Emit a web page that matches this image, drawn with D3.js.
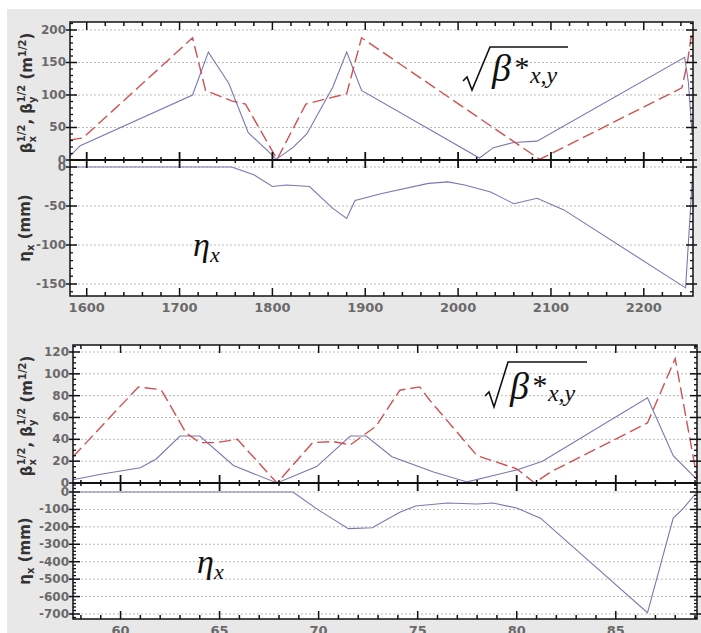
<!DOCTYPE html>
<html>
<head>
<meta charset="utf-8">
<script src="https://cdn.jsdelivr.net/npm/d3@7"></script>
<style>
  body { margin: 0; background: #fff; }
  svg { display: block; }
  .tick-label { font-family: "DejaVu Sans", sans-serif; font-weight: bold; fill: #6a6a6a; }
  .axis-title { font-family: "DejaVu Sans", sans-serif; font-weight: bold; fill: #333; }
  .math { font-family: "Liberation Serif", serif; font-style: italic; fill: #111; }
</style>
</head>
<body>
<svg id="chart" width="701" height="633"></svg>
<script>
// ---- upper figure (s in m, 1582..2253) ----
const upS_bx = [1582, 1593, 1714, 1731, 1753, 1774, 1795, 1804, 1822, 1837, 1865, 1880, 1896, 2023, 2038, 2060, 2085, 2244, 2248, 2252];
const upBx   = [6, 22, 100, 166, 118, 42, 14, 1, 19, 40, 112, 166, 107, 3, 19, 27, 29, 158, 120, 40];
const upS_by = [1582, 1596, 1714, 1728, 1756, 1771, 1805, 1836, 1880, 1896, 2088, 2241, 2247, 2251, 2253];
const upBy   = [31, 34, 188, 107, 91, 86, 1, 86, 102, 188, 1, 111, 150, 190, 185];
const upS_eta = [1582, 1756, 1780, 1800, 1815, 1840, 1865, 1880, 1889, 1918, 1968, 1989, 2007, 2035, 2060, 2085, 2114, 2245, 2250, 2253];
const upEta   = [0, 0, -10, -25, -23, -25, -53, -66, -43, -34, -21, -19, -23, -32, -47, -40, -55, -155, -60, 0];
const upXTicks = [1600, 1700, 1800, 1900, 2000, 2100, 2200];
const upBetaTicks = [0, 50, 100, 150, 200];
const upEtaTicks = [0, -50, -100, -150];

// ---- lower figure ----
const loS_bx = [57.6, 59, 61, 61.8, 63, 64, 65.7, 67.9, 69.9, 71.6, 72.4, 73.7, 75.8, 77.5, 80.0, 81.3, 86.6, 87.9, 89.1];
const loBx   = [3, 8, 14, 22, 43, 43, 16, 0, 15, 43, 43, 24, 10, 1, 12, 20, 78, 25, 3];
const loS_by = [57.6, 60.9, 61.8, 62.1, 63.3, 64.0, 64.8, 65.9, 67.9, 69.7, 70.7, 71.6, 72.9, 74.1, 75.1, 75.6, 78.0, 80.0, 80.9, 81.7, 86.6, 88.0, 89.1];
const loBy   = [24, 88, 86, 84, 46, 37, 37, 40, 0, 37, 38, 35, 52, 85, 88, 76, 25, 13, 0, 10, 55, 114, 5];
const loS_eta = [57.6, 68.7, 70.0, 71.5, 72.7, 74.1, 74.9, 76.5, 78.0, 78.8, 80.0, 81.2, 86.6, 87.9, 88.4, 89.1];
const loEta   = [0, 0, -104, -210, -205, -116, -80, -63, -69, -63, -92, -150, -693, -150, -95, 0];
const loXTicks = [60, 65, 70, 75, 80, 85];
const loBetaTicks = [0, 20, 40, 60, 80, 100, 120];
const loEtaTicks = [0, -100, -200, -300, -400, -500, -600, -700];

const svg = d3.select("#chart");

// grey backdrop
svg.append("rect").attr("x", 7).attr("y", 9).attr("width", 694).attr("height", 624).attr("fill", "#e8e8e8");

const blue = "#7878b2", red = "#d25050";

function drawFigure(cfg) {
  const g = svg.append("g");
  const x = d3.scaleLinear().domain(cfg.xDom).range([cfg.left, cfg.right]);
  const yB = d3.scaleLinear().domain(cfg.bDom).range([cfg.mid, cfg.top]);
  const yE = d3.scaleLinear().domain(cfg.eDom).range([cfg.bottom, cfg.mid]);

  g.append("rect").attr("x", cfg.left).attr("y", cfg.top)
    .attr("width", cfg.right - cfg.left).attr("height", cfg.bottom - cfg.top)
    .attr("fill", "#fff");

  // dotted grid
  const grid = (scale, vals) => g.selectAll(null).data(vals).enter().append("line")
    .attr("x1", cfg.left).attr("x2", cfg.right)
    .attr("y1", d => scale(d)).attr("y2", d => scale(d))
    .attr("stroke", "#bbb").attr("stroke-width", 1).attr("stroke-dasharray", "2,2");
  grid(yB, cfg.bTicks.filter(d => d !== 0));
  grid(yE, cfg.eTicks);

  // curves
  const line = (xs, ys, yScale) => d3.line().x(d => x(d[0])).y(d => yScale(d[1]))(d3.zip(xs, ys));
  g.append("path").attr("d", line(cfg.sEta, cfg.eta, yE)).attr("fill", "none")
    .attr("stroke", blue).attr("stroke-width", 1.1);
  g.append("path").attr("d", line(cfg.sBx, cfg.bx, yB)).attr("fill", "none")
    .attr("stroke", blue).attr("stroke-width", 1.1);
  g.append("path").attr("d", line(cfg.sBy, cfg.by, yB)).attr("fill", "none")
    .attr("stroke", red).attr("stroke-width", 1.4).attr("stroke-dasharray", "12,5");

  // frame
  g.append("rect").attr("x", cfg.left).attr("y", cfg.top)
    .attr("width", cfg.right - cfg.left).attr("height", cfg.bottom - cfg.top)
    .attr("fill", "none").attr("stroke", "#111").attr("stroke-width", 1.5);
  g.append("line").attr("x1", cfg.left).attr("x2", cfg.right)
    .attr("y1", cfg.mid).attr("y2", cfg.mid).attr("stroke", "#111").attr("stroke-width", 2);

  // x tick marks on the three horizontal lines
  const xMinor = d3.range(Math.ceil(cfg.xDom[0] / cfg.xMinor) * cfg.xMinor, cfg.xDom[1], cfg.xMinor)
    .filter(v => !cfg.xTicks.some(t => Math.abs(t - v) < 1e-6));
  const xMarks = (vals, y1, y2, w) => g.selectAll(null).data(vals).enter().append("line")
    .attr("x1", d => x(d)).attr("x2", d => x(d)).attr("y1", y1).attr("y2", y2)
    .attr("stroke", "#111").attr("stroke-width", w);
  xMarks(cfg.xTicks, cfg.top, cfg.top + 8, 1.5);
  xMarks(xMinor, cfg.top, cfg.top + 4, 1.5);
  xMarks(cfg.xTicks, cfg.mid - 8, cfg.mid + 8, 1.8);
  xMarks(xMinor, cfg.mid - 3, cfg.mid + 3, 1.5);
  xMarks(cfg.xTicks, cfg.bottom - 8, cfg.bottom, 1.5);
  xMarks(xMinor, cfg.bottom - 4, cfg.bottom, 1.5);

  g.selectAll(null).data(cfg.xTicks).enter().append("text")
    .attr("class", "tick-label").attr("x", d => x(d)).attr("y", cfg.bottom + 16)
    .attr("text-anchor", "middle").attr("font-size", 13).text(d => d);

  // y tick marks (left and right)
  const yMarks = (scale, majors, minorStep, dom) => {
    const minors = d3.range(Math.ceil(dom[0] / minorStep) * minorStep, dom[1], minorStep)
      .filter(v => !majors.includes(v));
    [[cfg.left, 1], [cfg.right, -1]].forEach(([x0, dir]) => {
      g.selectAll(null).data(majors).enter().append("line")
        .attr("x1", x0 - dir * 4).attr("x2", x0 + dir * 7)
        .attr("y1", d => scale(d)).attr("y2", d => scale(d))
        .attr("stroke", "#111").attr("stroke-width", 1.5);
      g.selectAll(null).data(minors).enter().append("line")
        .attr("x1", x0).attr("x2", x0 + dir * 3)
        .attr("y1", d => scale(d)).attr("y2", d => scale(d))
        .attr("stroke", "#111").attr("stroke-width", 1.3);
    });
    g.selectAll(null).data(majors).enter().append("text")
      .attr("class", "tick-label").attr("x", cfg.left - 4).attr("y", d => scale(d) + 4)
      .attr("text-anchor", "end").attr("font-size", 12).text(d => d);
  };
  yMarks(yB, cfg.bTicks, cfg.bMinor, cfg.bDom);
  yMarks(yE, cfg.eTicks, cfg.eMinor, cfg.eDom);

  // axis titles
  const bt = g.append("text").attr("class", "axis-title").attr("font-size", 15)
    .attr("transform", `translate(${cfg.titleX},${(cfg.top + cfg.mid) / 2 + 2}) rotate(-90)`)
    .attr("text-anchor", "middle");
  bt.append("tspan").text("β");
  bt.append("tspan").attr("font-size", 10).attr("dy", 4).text("x");
  bt.append("tspan").attr("font-size", 10).attr("dy", -11).attr("dx", -6).text("1/2");
  bt.append("tspan").attr("dy", 7).text(", β");
  bt.append("tspan").attr("font-size", 10).attr("dy", 4).text("y");
  bt.append("tspan").attr("font-size", 10).attr("dy", -11).attr("dx", -6).text("1/2");
  bt.append("tspan").attr("dy", 7).text(" (m");
  bt.append("tspan").attr("font-size", 10).attr("dy", -6).text("1/2");
  bt.append("tspan").attr("dy", 6).text(")");

  const et = g.append("text").attr("class", "axis-title").attr("font-size", 15)
    .attr("transform", `translate(${cfg.titleX - 2},${(cfg.mid + cfg.bottom) / 2}) rotate(-90)`)
    .attr("text-anchor", "middle");
  et.append("tspan").text("η");
  et.append("tspan").attr("font-size", 10).attr("dy", 4).text("x");
  et.append("tspan").attr("dy", -4).text(" (mm)");

  // annotations
  const r = cfg.rad;
  g.append("path")
    .attr("d", `M${r.x0},${r.y0 + 4} L${r.x0 + 4},${r.y0} L${r.x0 + 9},${r.yb} L${r.xt},${r.yt} L${r.xe},${r.yt}`)
    .attr("fill", "none").attr("stroke", "#111").attr("stroke-width", 1.6);
  const m = g.append("text").attr("class", "math").attr("x", r.xt + 2).attr("y", r.base).attr("font-size", 38);
  m.append("tspan").text("β");
  m.append("tspan").attr("dx", 2).attr("dy", -4).attr("font-size", 30).text("*");
  m.append("tspan").attr("dx", 2).attr("dy", 6).attr("font-size", 24).text("x,y");

  const e = g.append("text").attr("class", "math").attr("x", cfg.eta_x).attr("y", cfg.eta_y).attr("font-size", 34);
  e.append("tspan").text("η");
  e.append("tspan").attr("font-size", 22).attr("dy", 6).text("x");
}

drawFigure({
  left: 70, right: 693, top: 22, mid: 160, bottom: 296,
  xDom: [1582, 2253], xTicks: upXTicks, xMinor: 20,
  bDom: [0, 212.3], bTicks: upBetaTicks, bMinor: 10,
  eDom: [-165.4, 9], eTicks: upEtaTicks, eMinor: 10,
  sBx: upS_bx, bx: upBx, sBy: upS_by, by: upBy, sEta: upS_eta, eta: upEta,
  titleX: 32,
  rad: { x0: 463, y0: 77, yb: 90, xt: 490, yt: 47, xe: 568, base: 81 },
  eta_x: 193, eta_y: 256
});

drawFigure({
  left: 73, right: 697, top: 345, mid: 483, bottom: 619,
  xDom: [57.6, 89.1], xTicks: loXTicks, xMinor: 1,
  bDom: [0, 126.4], bTicks: loBetaTicks, bMinor: 5,
  eDom: [-728.7, 51.6], eTicks: loEtaTicks, eMinor: 20,
  sBx: loS_bx, bx: loBx, sBy: loS_by, by: loBy, sEta: loS_eta, eta: loEta,
  titleX: 32,
  rad: { x0: 485, y0: 392, yb: 407, xt: 508, yt: 362, xe: 587, base: 399 },
  eta_x: 197, eta_y: 573
});
</script>
</body>
</html>
